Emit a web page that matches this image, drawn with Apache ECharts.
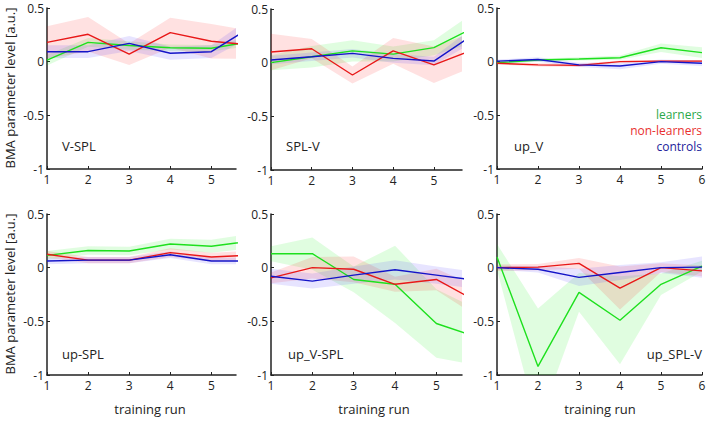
<!DOCTYPE html>
<html><head><meta charset="utf-8">
<script src="https://cdn.jsdelivr.net/npm/echarts@6/dist/echarts.min.js"></script>
<style>html,body{margin:0;padding:0;background:#fff}#c{width:710px;height:421px}</style>
</head><body><div id="c"></div>
<script>
// ---------- data ----------
const runs = [1, 2, 3, 4, 5, 6];
const groups = ['learners', 'non-learners', 'controls'];
const panelNames = ['V-SPL', 'SPL-V', 'up_V', 'up-SPL', 'up_V-SPL', 'up_SPL-V'];
const xTickValues = [1, 2, 3, 4, 5, 6];
const yTickValues = [-1, -0.5, 0, 0.5];

// means per group: [learners, non-learners, controls]
const meanVSPL = [
  [0.015, 0.18, 0.15, 0.13, 0.125, 0.19],
  [0.18, 0.255, 0.07, 0.27, 0.19, 0.155],
  [0.093, 0.093, 0.17, 0.078, 0.093, 0.33]
];
const semVSPL = [
  [0.05, 0.04, 0.04, 0.03, 0.03, 0.04],
  [0.15, 0.16, 0.10, 0.14, 0.16, 0.13],
  [0.06, 0.06, 0.07, 0.06, 0.06, 0.09]
];
const meanSPLV = [
  [0.0, 0.055, 0.11, 0.08, 0.14, 0.33],
  [0.10, 0.13, -0.115, 0.11, -0.02, 0.125],
  [0.025, 0.055, 0.087, 0.04, 0.015, 0.27]
];
const semSPLV = [
  [0.07, 0.10, 0.10, 0.07, 0.07, 0.14],
  [0.17, 0.09, 0.08, 0.12, 0.17, 0.16],
  [0.04, 0.04, 0.04, 0.04, 0.04, 0.07]
];
const meanUpV = [
  [-0.01, 0.015, 0.025, 0.037, 0.13, 0.084],
  [-0.015, -0.03, -0.035, 0.0, 0.005, 0.005],
  [0.005, 0.02, -0.03, -0.04, 0.0, -0.015]
];
const semUpV = [
  [0.015, 0.015, 0.015, 0.02, 0.04, 0.05],
  [0.01, 0.015, 0.015, 0.01, 0.01, 0.01],
  [0.015, 0.02, 0.02, 0.03, 0.02, 0.025]
];
const meanUpSPL = [
  [0.115, 0.16, 0.155, 0.22, 0.2, 0.25],
  [0.125, 0.07, 0.07, 0.14, 0.1, 0.117],
  [0.062, 0.07, 0.07, 0.12, 0.062, 0.062]
];
const semUpSPL = [
  [0.04, 0.04, 0.04, 0.05, 0.06, 0.07],
  [0.03, 0.03, 0.03, 0.04, 0.04, 0.04],
  [0.03, 0.03, 0.03, 0.03, 0.03, 0.03]
];
const meanUpVSPL = [
  [0.13, 0.13, -0.11, -0.155, -0.52, -0.65],
  [-0.095, 0.0, -0.015, -0.155, -0.11, -0.32],
  [-0.08, -0.125, -0.07, -0.02, -0.07, -0.12]
];
const semUpVSPL = [
  [0.07, 0.15, 0.12, 0.36, 0.32, 0.26],
  [0.05, 0.10, 0.12, 0.07, 0.10, 0.14],
  [0.07, 0.07, 0.08, 0.09, 0.08, 0.08]
];
const meanUpSPLV = [
  [0.1, -0.92, -0.23, -0.49, -0.155, 0.015],
  [0.0, 0.005, 0.04, -0.19, 0.0, -0.03],
  [0.0, -0.015, -0.09, -0.045, 0.0, 0.005]
];
const semUpSPLV = [
  [0.12, 0.54, 0.18, 0.41, 0.10, 0.05],
  [0.03, 0.03, 0.05, 0.20, 0.04, 0.05],
  [0.02, 0.03, 0.08, 0.07, 0.05, 0.10]
];

const panelMeans = [meanVSPL, meanSPLV, meanUpV, meanUpSPL, meanUpVSPL, meanUpSPLV];
const panelSems = [semVSPL, semSPLV, semUpV, semUpSPL, semUpVSPL, semUpSPLV];

// ---------- layout / style ----------
const FONT = '"Open Sans", sans-serif';
const lineColors = ['#1ee01e', '#e81818', '#1414c8'];
const bandColors = ['rgba(0,235,0,0.12)', 'rgba(255,20,20,0.13)', 'rgba(70,50,255,0.13)'];
const legendColors = ['#2aa84a', '#e83030', '#22229a'];
const grids = [
  {left: 47, top: 8, width: 189, height: 161, xmax: 5.6},
  {left: 271, top: 9, width: 191, height: 161, xmax: 5.69},
  {left: 497, top: 8, width: 205, height: 161, xmax: 6},
  {left: 47, top: 214, width: 189, height: 161, xmax: 5.6},
  {left: 271, top: 214, width: 191, height: 161, xmax: 5.62},
  {left: 497, top: 214, width: 205, height: 161, xmax: 6}
];
const labelPos = [
  {x: 62, y: 146, align: 'left'}, {x: 286, y: 146, align: 'left'}, {x: 514, y: 146, align: 'left'},
  {x: 62, y: 354, align: 'left'}, {x: 288, y: 354, align: 'left'}, {x: 702, y: 354, align: 'right'}
];

const option = {
  animation: false,
  backgroundColor: '#fff',
  grid: grids.map(g => ({left: g.left, top: g.top, width: g.width, height: g.height, containLabel: false})),
  xAxis: grids.map((g, i) => ({
    type: 'value', gridIndex: i, min: 1, max: g.xmax, interval: 1,
    axisLine: {show: true, onZero: false, lineStyle: {color: '#222', width: 1.5}},
    axisTick: {show: true, inside: true, length: 3, lineStyle: {color: '#222'},
      customValues: xTickValues.filter(v => v <= g.xmax)},
    axisLabel: {show: true, color: '#222', fontSize: 12, fontFamily: FONT, margin: 4,
      customValues: xTickValues.filter(v => v <= g.xmax)},
    splitLine: {show: false}
  })),
  yAxis: grids.map((g, i) => ({
    type: 'value', gridIndex: i, min: -1, max: 0.5, interval: 0.5,
    axisLine: {show: true, onZero: false, lineStyle: {color: '#222', width: 1.5}},
    axisTick: {show: true, inside: true, length: 3, lineStyle: {color: '#222'}, customValues: yTickValues},
    axisLabel: {show: true, color: '#222', fontSize: 12, fontFamily: FONT, margin: 3, customValues: yTickValues},
    splitLine: {show: false}
  })),
  series: [],
  graphic: []
};

// bands (custom polygons) then lines
for (let p = 0; p < 6; p++) {
  for (let k = 0; k < 3; k++) {
    const m = panelMeans[p][k], s = panelSems[p][k];
    const bandData = runs.map((r, i) => [r, m[i] - s[i], m[i] + s[i]]);
    option.series.push({
      type: 'custom', xAxisIndex: p, yAxisIndex: p, clip: true, z: 1,
      silent: true,
      data: bandData,
      encode: {x: 0, y: [1, 2]},
      renderItem: (params, api) => {
        if (params.dataIndex !== 0) return null;
        const up = bandData.map(d => api.coord([d[0], d[2]]));
        const lo = bandData.map(d => api.coord([d[0], d[1]])).reverse();
        const cs = params.coordSys;
        return {
          type: 'polygon',
          shape: {points: up.concat(lo)},
          style: {fill: bandColors[k], stroke: null},
          clipPath: {type: 'rect', shape: {x: cs.x, y: cs.y, width: cs.width, height: cs.height}}
        };
      }
    });
  }
  for (let k = 0; k < 3; k++) {
    const m = panelMeans[p][k];
    option.series.push({
      type: 'line', name: groups[k], xAxisIndex: p, yAxisIndex: p, z: 3,
      data: runs.map((r, i) => [r, m[i]]),
      showSymbol: false, symbol: 'none', clip: true,
      lineStyle: {color: lineColors[k], width: 1.4},
      silent: true
    });
  }
  option.graphic.push({
    type: 'text', x: labelPos[p].x, y: labelPos[p].y,
    style: {text: panelNames[p], fill: '#222', font: '13px ' + FONT,
      textAlign: labelPos[p].align, textVerticalAlign: 'middle'}
  });
}

// y axis titles
[88, 294].forEach(cy => option.graphic.push({
  type: 'text', x: 10, y: cy, rotation: Math.PI / 2,
  style: {text: 'BMA parameter level [a.u.]', fill: '#222', font: '13px ' + FONT,
    textAlign: 'center', textVerticalAlign: 'middle'}
}));
// x axis titles
[150, 374, 600].forEach(cx => option.graphic.push({
  type: 'text', x: cx, y: 409,
  style: {text: 'training run', fill: '#222', font: '13px ' + FONT,
    textAlign: 'center', textVerticalAlign: 'middle'}
}));
// legend
groups.forEach((g, k) => option.graphic.push({
  type: 'text', x: 702, y: 114 + 16 * k,
  style: {text: g, fill: legendColors[k], font: '12px ' + FONT, lineHeight: 12,
    textAlign: 'right', textVerticalAlign: 'middle'}
}));

const chart = echarts.init(document.getElementById('c'), null, {renderer: 'svg', width: 710, height: 421});
chart.setOption(option);
</script>
</body></html>
